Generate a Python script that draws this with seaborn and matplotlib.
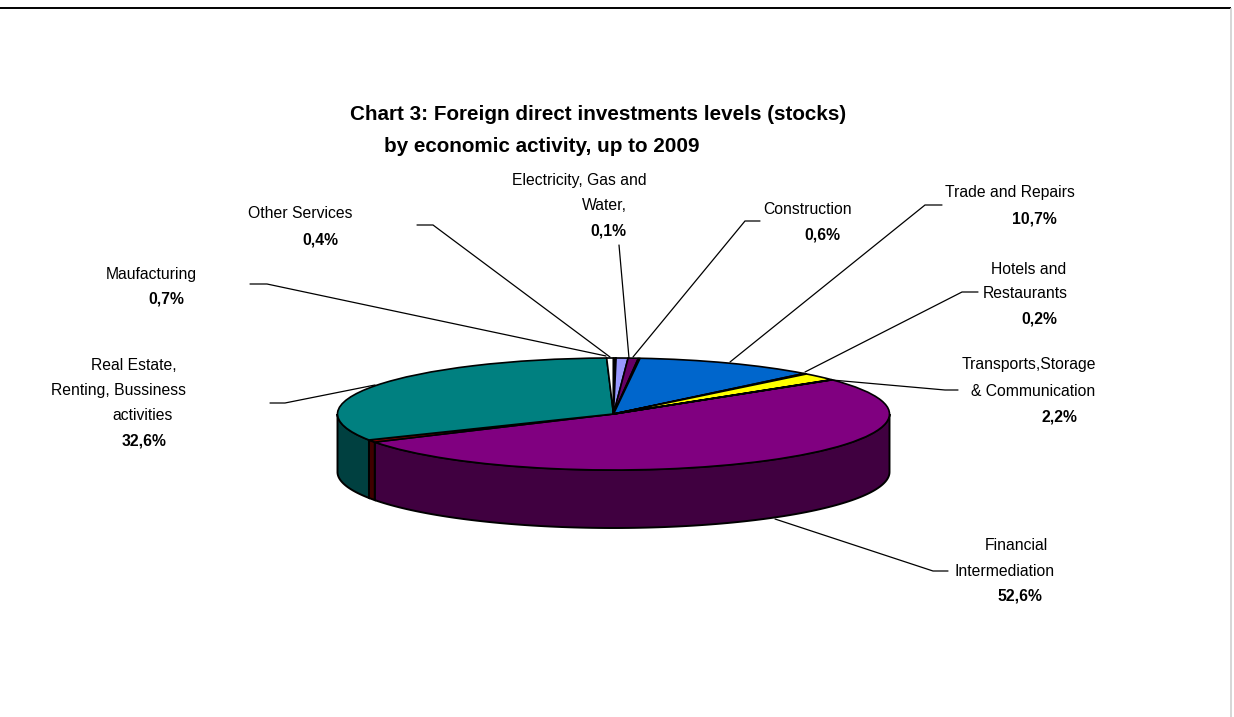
import numpy as np
import matplotlib
matplotlib.use("Agg")
import matplotlib.pyplot as plt
import seaborn as sns

# Slices clockwise, starting at Financial Intermediation.
slice_names = ["Financial Intermediation", "unlabelled a", "Real Estate", "Other Services",
               "unlabelled b", "unlabelled c", "Maufacturing", "Construction",
               "Electricity, Gas and Water", "Trade and Repairs", "Hotels and Restaurants",
               "Transports, Storage & Communication", "unlabelled d"]
slice_values = [52.6, 0.7, 32.6, 0.4, 0.1, 0.05, 0.7, 0.6, 0.1, 10.7, 0.2, 2.2, 0.05]
slice_colors = ["#800080", "#800000", "#008080", "#FFFFFF", "#00CCFF", "#000080", "#9999FF",
                "#660066", "#993300", "#0066CC", "#003300", "#FFFF00", "#003333"]

title_lines = [("Chart 3: Foreign direct investments levels (stocks)", 350, 114),
               ("by economic activity, up to 2009", 384, 146)]
label_lines = [
    ("Electricity, Gas and", 512, 181, False), ("Water,", 582, 206, False), ("0,1%", 590, 231, True),
    ("Other Services", 248, 214, False), ("0,4%", 302, 240, True),
    ("Maufacturing", 106, 274, False), ("0,7%", 148, 299, True),
    ("Real Estate,", 91, 366, False), ("Renting, Bussiness", 51, 391, False),
    ("activities", 112, 415, False), ("32,6%", 122, 441, True),
    ("Construction", 763, 210, False), ("0,6%", 804, 235, True),
    ("Trade and Repairs", 945, 193, False), ("10,7%", 1012, 219, True),
    ("Hotels and", 991, 269, False), ("Restaurants", 983, 294, False), ("0,2%", 1021, 319, True),
    ("Transports,Storage", 962, 365, False), ("& Communication", 971, 391, False), ("2,2%", 1041, 417, True),
    ("Financial", 985, 546, False), ("Intermediation", 954, 571, False), ("52,6%", 998, 596, True),
]
leader_paths = [
    [(270, 403), (285, 403), (375, 385)],
    [(250, 284), (267, 284), (606, 356)],
    [(417, 225), (433, 225), (610, 357)],
    [(619, 245), (629, 358)],
    [(760, 221), (745, 221), (633, 357)],
    [(942, 205), (925, 205), (730, 362)],
    [(978, 292), (962, 292), (805, 372)],
    [(958, 390), (945, 390), (832, 380)],
    [(948, 571), (933, 571), (775, 519)],
]

WIDTH, HEIGHT = 1234, 717
CX, CY, RX, RY, DEPTH = 613.5, 414, 276, 56, 58
START = 52.4  # degrees clockwise from the top of the ellipse

sns.set_theme(style="white")
plt.rcParams["font.family"] = ["Liberation Sans", "DejaVu Sans"]
palette = sns.color_palette(slice_colors)

fig = plt.figure(figsize=(WIDTH / 100, HEIGHT / 100), dpi=100, facecolor="white")

# The pie lives in unit-circle coordinates; unequal axis scales tilt it into an ellipse.
ax = fig.add_axes([0, 0, 1, 1])
ax.pie(slice_values, colors=palette, startangle=90 - START, counterclock=False,
       radius=1, center=(0, 0),
       wedgeprops=dict(edgecolor="black", linewidth=1.2, zorder=3))
ax.set_aspect("auto")
ax.set_xlim(-CX / RX, (WIDTH - CX) / RX)
ax.set_ylim((CY - HEIGHT) / RY, CY / RY)
ax.axis("off")

# Side wall: the front half of each slice, pushed down and darkened.
depth_units = DEPTH / RY
shares = np.array(slice_values) / np.sum(slice_values) * 360.0
edges = START + np.concatenate([[0], np.cumsum(shares)])
for a0, a1, col in zip(edges[:-1], edges[1:], palette):
    lo, hi = max(a0, 90.0), min(a1, 270.0)
    if lo >= hi:
        continue
    t = np.radians(np.linspace(lo, hi, 120))
    xs, ys = np.sin(t), np.cos(t)
    px = np.concatenate([xs, xs[::-1]])
    py = np.concatenate([ys, ys[::-1] - depth_units])
    ax.fill(px, py, facecolor=tuple(c * 0.5 for c in col), edgecolor="black",
            linewidth=1.4, zorder=2)

# Pixel-scaled overlay for frame rules, leaders and text.
over = fig.add_axes([0, 0, 1, 1], facecolor="none")
over.set_xlim(0, WIDTH)
over.set_ylim(HEIGHT, 0)
over.axis("off")

over.plot([0, 1231], [7.5, 7.5], color="black", lw=1.4, solid_capstyle="butt")
over.plot([1231, 1231], [8, HEIGHT], color="#cfcfcf", lw=1.2, solid_capstyle="butt")

for path in leader_paths:
    xs, ys = zip(*path)
    over.plot(xs, ys, color="black", lw=0.9, solid_joinstyle="miter")

for text, x, y in title_lines:
    over.text(x, y, text, fontsize=14.9, fontweight="bold", ha="left", va="center", color="black")
for text, x, y, bold in label_lines:
    over.text(x, y, text, fontsize=11.3, fontweight="bold" if bold else "normal",
              ha="left", va="center", color="black")

fig.savefig("out.png", dpi=100, facecolor="white")
